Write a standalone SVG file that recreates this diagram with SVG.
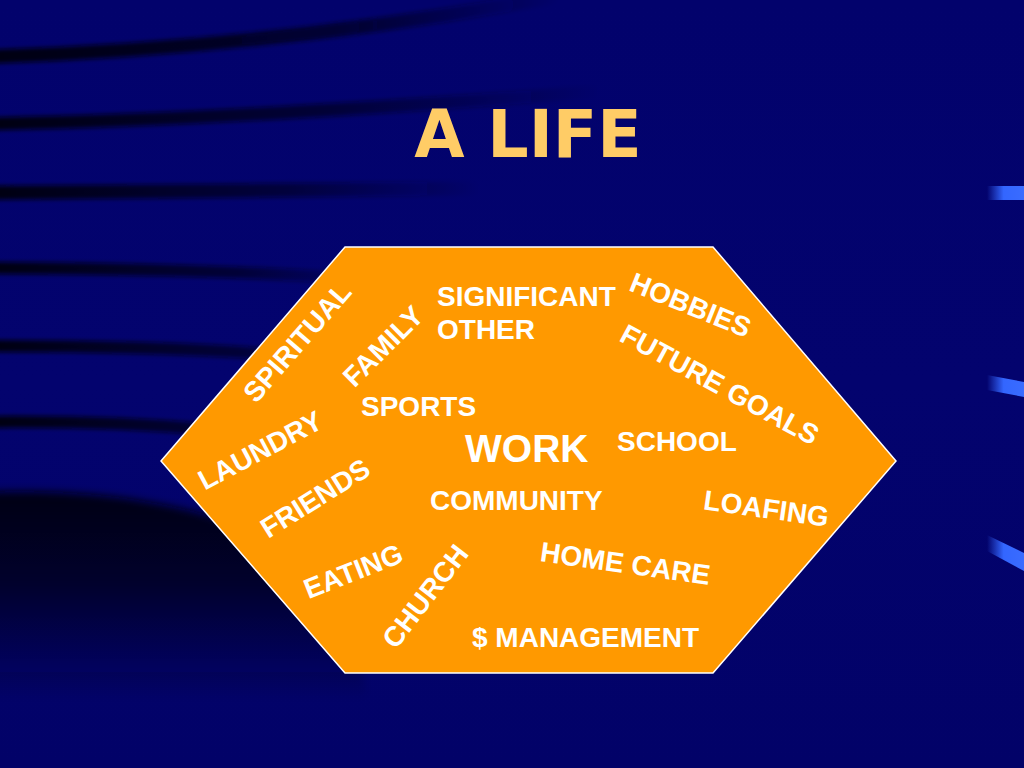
<svg xmlns="http://www.w3.org/2000/svg" width="1024" height="768" viewBox="0 0 1024 768">
  <style>
    .w { font-family: "Liberation Sans", Arial, sans-serif; font-weight: bold; font-size: 28px; fill: #ffffff; }
    .rot { text-anchor: middle; }
    .title { font-family: "DejaVu Sans", Verdana, sans-serif; font-weight: bold; font-size: 65px; fill: #ffcc66; text-anchor: middle; }
    .streak { fill: none; stroke-linecap: round; }
  </style>
  <defs>
    <linearGradient id="bg" x1="0" y1="0" x2="0" y2="1">
      <stop offset="0" stop-color="#02026c"/>
      <stop offset="0.5" stop-color="#03036e"/>
      <stop offset="1" stop-color="#020268"/>
    </linearGradient>
    <linearGradient id="s1" gradientUnits="userSpaceOnUse" x1="0" y1="0" x2="560" y2="0">
      <stop offset="0" stop-color="#000010" stop-opacity="0.95"/>
      <stop offset="0.6" stop-color="#000018" stop-opacity="0.7"/>
      <stop offset="1" stop-color="#000020" stop-opacity="0"/>
    </linearGradient>
    <linearGradient id="s2" gradientUnits="userSpaceOnUse" x1="0" y1="0" x2="600" y2="0">
      <stop offset="0" stop-color="#000010" stop-opacity="0.95"/>
      <stop offset="0.55" stop-color="#000018" stop-opacity="0.6"/>
      <stop offset="1" stop-color="#000020" stop-opacity="0"/>
    </linearGradient>
    <linearGradient id="s3" gradientUnits="userSpaceOnUse" x1="0" y1="0" x2="480" y2="0">
      <stop offset="0" stop-color="#000010" stop-opacity="0.95"/>
      <stop offset="0.6" stop-color="#000018" stop-opacity="0.55"/>
      <stop offset="1" stop-color="#000020" stop-opacity="0"/>
    </linearGradient>
    <linearGradient id="s4" gradientUnits="userSpaceOnUse" x1="0" y1="0" x2="340" y2="0">
      <stop offset="0" stop-color="#000010" stop-opacity="0.95"/>
      <stop offset="0.7" stop-color="#000018" stop-opacity="0.6"/>
      <stop offset="1" stop-color="#000020" stop-opacity="0.2"/>
    </linearGradient>
    <linearGradient id="dark" gradientUnits="userSpaceOnUse" x1="0" y1="488" x2="0" y2="700">
      <stop offset="0" stop-color="#00000e" stop-opacity="0.95"/>
      <stop offset="0.45" stop-color="#000010" stop-opacity="0.7"/>
      <stop offset="1" stop-color="#000020" stop-opacity="0"/>
    </linearGradient>
    <linearGradient id="mark" gradientUnits="userSpaceOnUse" x1="987" y1="0" x2="1024" y2="0">
      <stop offset="0" stop-color="#3366ff" stop-opacity="0"/>
      <stop offset="0.45" stop-color="#3366ff" stop-opacity="1"/>
      <stop offset="1" stop-color="#3a6cff" stop-opacity="1"/>
    </linearGradient>
    <filter id="soft" x="-10%" y="-50%" width="120%" height="200%">
      <feGaussianBlur stdDeviation="2"/>
    </filter>
    <filter id="soft2" x="-20%" y="-20%" width="140%" height="140%">
      <feGaussianBlur stdDeviation="4"/>
    </filter>
  </defs>

  <g id="background">
    <rect x="0" y="0" width="1024" height="768" fill="url(#bg)"/>
    <g filter="url(#soft)">
      <path class="streak" d="M -20,57 C 150,52 360,34 580,-8" stroke="url(#s1)" stroke-width="14"/>
      <path class="streak" d="M -20,124 C 200,120 420,106 640,88" stroke="url(#s2)" stroke-width="13"/>
      <path class="streak" d="M -20,193 C 180,192 380,190 520,188" stroke="url(#s3)" stroke-width="14"/>
      <path class="streak" d="M -20,268 C 100,268 250,271 340,278" stroke="url(#s4)" stroke-width="12"/>
      <path class="streak" d="M -20,346 C 100,346 200,349 270,354" stroke="url(#s4)" stroke-width="12"/>
      <path class="streak" d="M -20,422 C 80,421 150,424 210,430" stroke="url(#s4)" stroke-width="12"/>
    </g>
    <path d="M -10,492 C 110,488 220,508 300,552 C 340,580 360,640 380,768 L -10,768 Z" fill="url(#dark)" filter="url(#soft2)"/>
    <polygon points="987,186 1024,186 1024,200 987,200" fill="url(#mark)"/>
    <polygon points="987,375 1024,382 1024,397 987,390" fill="url(#mark)"/>
    <polygon points="987,535 1024,553 1024,571 987,551" fill="url(#mark)"/>
  </g>

  <g id="title">
    <text class="title" x="528" y="157">A LIFE</text>
  </g>

  <g id="hexagon">
    <polygon points="345,247 713,247 896,461 713,673 345,673 161,461" fill="#ff9900" stroke="#ffffff" stroke-width="1.5" stroke-linejoin="miter"/>
  </g>

  <g id="connectors"/>

  <g id="labels">
    <g id="significant-other">
      <text class="w" x="437" y="306">SIGNIFICANT</text>
      <text class="w" x="437" y="339">OTHER</text>
    </g>
    <g id="sports"><text class="w" x="361" y="416">SPORTS</text></g>
    <g id="work"><text class="w" x="465" y="462" style="font-size:39px">WORK</text></g>
    <g id="school"><text class="w" x="617" y="451">SCHOOL</text></g>
    <g id="community"><text class="w" x="430" y="510">COMMUNITY</text></g>
    <g id="management"><text class="w" x="472" y="647">$ MANAGEMENT</text></g>

    <g id="hobbies"><text class="w rot" transform="translate(687,314) rotate(22)">HOBBIES</text></g>
    <g id="future-goals"><text class="w rot" transform="translate(715,393) rotate(28.5)">FUTURE GOALS</text></g>
    <g id="loafing"><text class="w rot" transform="translate(765,518) rotate(8)">LOAFING</text></g>
    <g id="home-care"><text class="w rot" transform="translate(624,573) rotate(8)">HOME CARE</text></g>
    <g id="spiritual"><text class="w rot" transform="translate(304.5,348.6) rotate(-49)">SPIRITUAL</text></g>
    <g id="family"><text class="w rot" transform="translate(390,353) rotate(-45)">FAMILY</text></g>
    <g id="laundry"><text class="w rot" transform="translate(264.7,458.8) rotate(-28)">LAUNDRY</text></g>
    <g id="friends"><text class="w rot" transform="translate(320.3,506.5) rotate(-32)">FRIENDS</text></g>
    <g id="eating"><text class="w rot" transform="translate(356.7,580.3) rotate(-21.5)">EATING</text></g>
    <g id="church"><text class="w rot" transform="translate(432.9,602.1) rotate(-52.5)">CHURCH</text></g>
  </g>
</svg>
